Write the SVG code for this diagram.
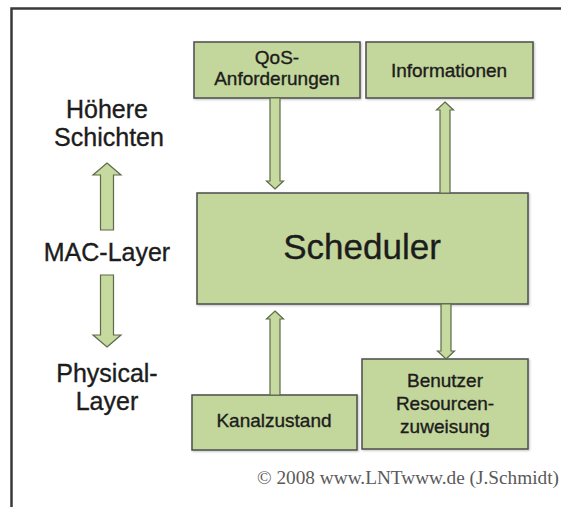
<svg xmlns="http://www.w3.org/2000/svg" width="561" height="507" viewBox="0 0 561 507">
  <style>
    .box { fill: #c3d69b; stroke: #4d4d4d; stroke-width: 1.5; filter: url(#shadow); }
    .arrow { fill: #c6d99f; stroke: #5e6a48; stroke-width: 1.2; stroke-linejoin: miter; }
    .lbl { font-family: "Liberation Sans", Arial, sans-serif; fill: #1c1c1c; stroke: #1c1c1c; stroke-width: 0.35; text-anchor: middle; }
    .side { font-size: 25px; }
    .small { font-size: 19px; }
    .big { font-size: 35px; }
    .copy { font-family: "Liberation Serif", "Times New Roman", serif; font-size: 18px; fill: #5a5a5a; }
  </style>
  <defs>
    <filter id="shadow" x="-5%" y="-5%" width="110%" height="115%">
      <feDropShadow dx="1" dy="1" stdDeviation="0.8" flood-color="#000" flood-opacity="0.25"/>
    </filter>
  </defs>

  <rect x="0" y="0" width="561" height="507" fill="#ffffff"/>

  <!-- outer frame: top and left edges -->
  <path d="M11.5 507 L11.5 8.5 L561 8.5" fill="none" stroke="#3a3a3a" stroke-width="2.5"/>

  <!-- layer labels on the left -->
  <g id="layers">
    <text class="lbl side" x="107" y="118">Höhere</text>
    <text class="lbl side" x="109" y="146">Schichten</text>
    <text class="lbl side" x="107" y="261">MAC-Layer</text>
    <text class="lbl side" x="107" y="382">Physical-</text>
    <text class="lbl side" x="107" y="410">Layer</text>
  </g>

  <g id="qos">
    <rect class="box" x="194" y="42" width="166" height="56"/>
    <text class="lbl small" x="277" y="64">QoS-</text>
    <text class="lbl small" x="277" y="85">Anforderungen</text>
  </g>

  <g id="informationen">
    <rect class="box" x="366" y="42" width="167" height="56"/>
    <text class="lbl small" x="449" y="77">Informationen</text>
  </g>

  <g id="scheduler">
    <rect class="box" x="197" y="193" width="331" height="111"/>
    <text class="lbl big" x="362" y="259">Scheduler</text>
  </g>

  <g id="kanalzustand">
    <rect class="box" x="192" y="395" width="165" height="55"/>
    <text class="lbl small" x="274" y="427">Kanalzustand</text>
  </g>

  <g id="zuweisung">
    <rect class="box" x="362" y="359" width="166" height="90"/>
    <text class="lbl small" x="445" y="387">Benutzer</text>
    <text class="lbl small" x="445" y="410">Resourcen-</text>
    <text class="lbl small" x="445" y="433">zuweisung</text>
  </g>

  <g id="connectors">
    <!-- MAC-Layer up to higher layers -->
    <path class="arrow" d="M107 163 L121 175 L113.5 175 L113.5 230 L100.5 230 L100.5 175 L93 175 Z"/>
    <!-- MAC-Layer down to physical layer -->
    <path class="arrow" d="M107 347 L121 335 L113.5 335 L113.5 275 L100.5 275 L100.5 335 L93 335 Z"/>
    <!-- QoS requirements into scheduler -->
    <path class="arrow" d="M275 189 L283.5 181 L280 181 L280 98 L270 98 L270 181 L266.5 181 Z"/>
    <!-- scheduler to information -->
    <path class="arrow" d="M445 102 L453.5 110 L450 110 L450 193 L440 193 L440 110 L436.5 110 Z"/>
    <!-- channel state into scheduler -->
    <path class="arrow" d="M275 311 L283.5 319 L280 319 L280 395 L270 395 L270 319 L266.5 319 Z"/>
    <!-- scheduler to resource allocation -->
    <path class="arrow" d="M446 359 L454.5 351 L451 351 L451 304 L441 304 L441 351 L437.5 351 Z"/>
  </g>

  <text class="copy" x="257" y="484" textLength="302" lengthAdjust="spacingAndGlyphs">© 2008 www.LNTwww.de (J.Schmidt)</text>
</svg>
